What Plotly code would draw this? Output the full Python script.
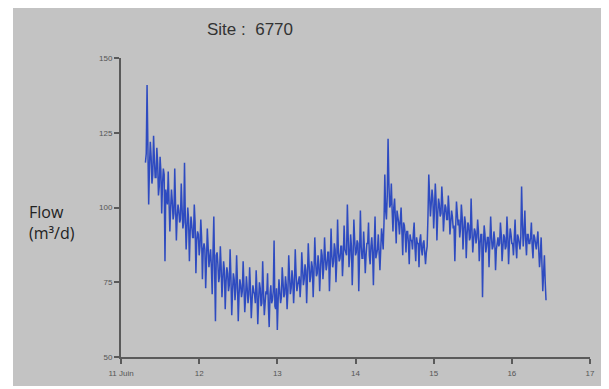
import pandas as pd
import plotly.graph_objects as go

# Flow readings every 15 minutes, starting 11 June 07:30 (m3/d)
flow = [
    115, 118, 141, 112, 101, 114, 122, 117,
    108, 111, 124, 116, 110, 110, 120, 115,
    104, 107, 117, 112, 98, 108, 113, 111,
    82, 106, 103, 101, 112, 104, 92, 100,
    106, 102, 96, 98, 113, 101, 89, 97,
    101, 99, 95, 96, 108, 100, 93, 95,
    115, 97, 86, 93, 100, 96, 82, 92,
    97, 94, 90, 90, 101, 95, 78, 89,
    92, 91, 84, 87, 96, 90, 76, 86,
    88, 86, 73, 82, 93, 87, 80, 83,
    86, 80, 71, 85, 97, 79, 62, 84,
    85, 81, 75, 77, 87, 80, 70, 76,
    82, 79, 66, 75, 80, 78, 72, 74,
    86, 77, 64, 72, 78, 76, 69, 73,
    84, 75, 62, 71, 76, 74, 70, 72,
    82, 74, 65, 70, 77, 73, 68, 71,
    80, 73, 63, 69, 74, 72, 71, 68,
    79, 72, 61, 69, 75, 73, 67, 68,
    82, 72, 64, 68, 72, 71, 78, 67,
    60, 71, 74, 68, 69, 72, 89, 67,
    66, 73, 59, 69, 76, 72, 68, 70,
    80, 75, 70, 71, 77, 74, 66, 72,
    84, 77, 71, 73, 79, 76, 68, 74,
    86, 78, 72, 74, 76, 77, 70, 75,
    85, 80, 74, 76, 81, 79, 68, 77,
    88, 81, 75, 77, 82, 80, 70, 78,
    90, 82, 77, 78, 84, 81, 72, 79,
    86, 84, 76, 80, 90, 83, 79, 81,
    85, 85, 72, 81, 93, 84, 80, 82,
    88, 86, 75, 82, 96, 85, 82, 83,
    87, 87, 77, 83, 94, 86, 85, 84,
    101, 88, 80, 84, 91, 87, 74, 83,
    96, 89, 84, 85, 89, 88, 72, 84,
    99, 87, 83, 83, 92, 86, 78, 84,
    88, 88, 95, 84, 81, 87, 90, 85,
    74, 87, 97, 83, 85, 86, 91, 84,
    79, 86, 93, 90, 86, 95, 111, 99,
    96, 104, 123, 108, 100, 101, 108, 99,
    92, 100, 103, 96, 88, 99, 97, 95,
    91, 96, 100, 92, 84, 95, 94, 91,
    85, 92, 92, 88, 81, 91, 89, 89,
    86, 91, 95, 87, 82, 90, 88, 88,
    80, 89, 91, 86, 84, 88, 89, 85,
    81, 85, 87, 97, 111, 104, 97, 101,
    106, 103, 93, 99, 108, 102, 89, 98,
    103, 101, 97, 98, 107, 102, 92, 97,
    101, 100, 96, 96, 104, 99, 91, 95,
    99, 97, 93, 94, 82, 93, 102, 98,
    94, 96, 90, 93, 101, 97, 86, 92,
    97, 95, 83, 91, 95, 94, 89, 90,
    103, 93, 85, 89, 93, 92, 88, 90,
    96, 92, 82, 88, 91, 91, 70, 86,
    94, 91, 85, 87, 90, 90, 80, 88,
    97, 90, 86, 87, 92, 89, 79, 86,
    89, 90, 87, 88, 95, 91, 82, 87,
    91, 90, 86, 87, 97, 91, 81, 88,
    93, 91, 88, 88, 84, 90, 96, 87,
    83, 91, 90, 88, 86, 90, 107, 95,
    87, 92, 99, 89, 84, 91, 91, 88,
    88, 90, 95, 87, 83, 91, 90, 88,
    86, 89, 92, 86, 80, 84, 90, 81,
    72, 78, 84, 75, 69,
]
times = pd.date_range("2015-06-11 07:30", periods=len(flow), freq="15min")

x_tickvals = ["2015-06-11", "2015-06-12", "2015-06-13", "2015-06-14",
              "2015-06-15", "2015-06-16", "2015-06-17"]
x_ticktext = ["11 Juin", "12", "13", "14", "15", "16", "17"]
y_tickvals = [50, 75, 100, 125, 150]

fig = go.Figure()
fig.add_trace(go.Scatter(
    x=times, y=flow, mode="lines",
    line=dict(color="#2e4bc0", width=1.5),
    showlegend=False, hoverinfo="x+y",
))

axis_common = dict(
    showline=True, linecolor="#5a5a5a", linewidth=2,
    ticks="outside", ticklen=5, tickwidth=1.5, tickcolor="#5a5a5a",
    showgrid=False, zeroline=False,
    tickfont=dict(family="Liberation Sans, Arial, sans-serif", size=8, color="#555555"),
)

fig.update_layout(
    width=601, height=381,
    margin=dict(l=113, r=19, t=50, b=32),
    paper_bgcolor="white",
    plot_bgcolor="rgba(0,0,0,0)",
    xaxis=dict(range=["2015-06-11", "2015-06-17"], tickvals=x_tickvals,
               ticktext=x_ticktext, ticklabelstandoff=2, **axis_common),
    yaxis=dict(range=[50, 150], tickvals=y_tickvals, **axis_common),
    shapes=[dict(type="rect", xref="paper", yref="paper",
                 x0=-0.2303, x1=1.0235, y0=-0.097, y1=1.167,
                 fillcolor="#c3c3c3", line=dict(width=0), layer="below")],
    annotations=[
        dict(text="Site :  6770", xref="paper", yref="paper",
             x=0.275, y=1.094, xanchor="center", yanchor="middle",
             showarrow=False,
             font=dict(family="Liberation Sans, Arial, sans-serif", size=17, color="#333333")),
        dict(text="Flow<br>(m³/d)", xref="paper", yref="paper",
             x=-0.2004, y=0.4515, xanchor="left", yanchor="middle", align="left",
             showarrow=False,
             font=dict(family="Open Sans, sans-serif", size=16, color="#222222")),
    ],
)

fig.write_html("out.html")
